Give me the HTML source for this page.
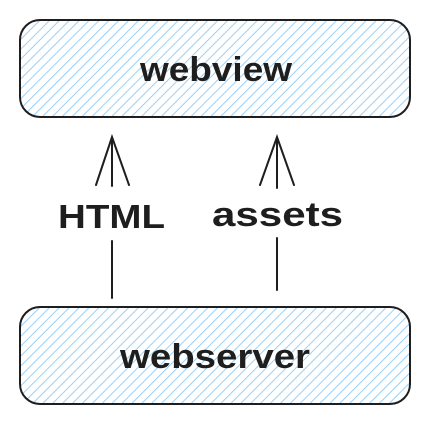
<!DOCTYPE html>
<html><head><style>
html,body{margin:0;padding:0;background:#fff;}
svg{display:block}
text{font-family:"Liberation Sans",sans-serif;font-weight:bold;fill:#1e1e1e;}
</style></head><body>
<svg width="430" height="424" viewBox="0 0 430 424" xmlns="http://www.w3.org/2000/svg">
<defs>
<pattern id="h" patternUnits="userSpaceOnUse" width="7" height="7" patternTransform="rotate(45)">
<line x1="0" y1="0" x2="0" y2="7" stroke="#8ecbf8" stroke-width="1.8"/>
</pattern>
</defs>
<rect x="20" y="20" width="390" height="97" rx="20" fill="url(#h)" stroke="#1e1e1e" stroke-width="2"/>
<rect x="20" y="307" width="390" height="97" rx="20" fill="url(#h)" stroke="#1e1e1e" stroke-width="2"/>
<text x="140" y="81" font-size="34" textLength="152" lengthAdjust="spacingAndGlyphs">webview</text>
<text x="120" y="368" font-size="34" textLength="190" lengthAdjust="spacingAndGlyphs">webserver</text>
<g stroke="#1e1e1e" stroke-width="2" fill="none" stroke-linecap="round">
<path d="M112 186 V137 M96 185 L112 137 L129 185 M112 241 V298"/>
<path d="M277 188 V137 M260 185 L277 137 L294 185 M277 238 V290"/>
</g>
<text x="58" y="228" font-size="33" textLength="107" lengthAdjust="spacingAndGlyphs">HTML</text>
<text x="212" y="226" font-size="34" textLength="131" lengthAdjust="spacingAndGlyphs">assets</text>
</svg>
</body></html>
